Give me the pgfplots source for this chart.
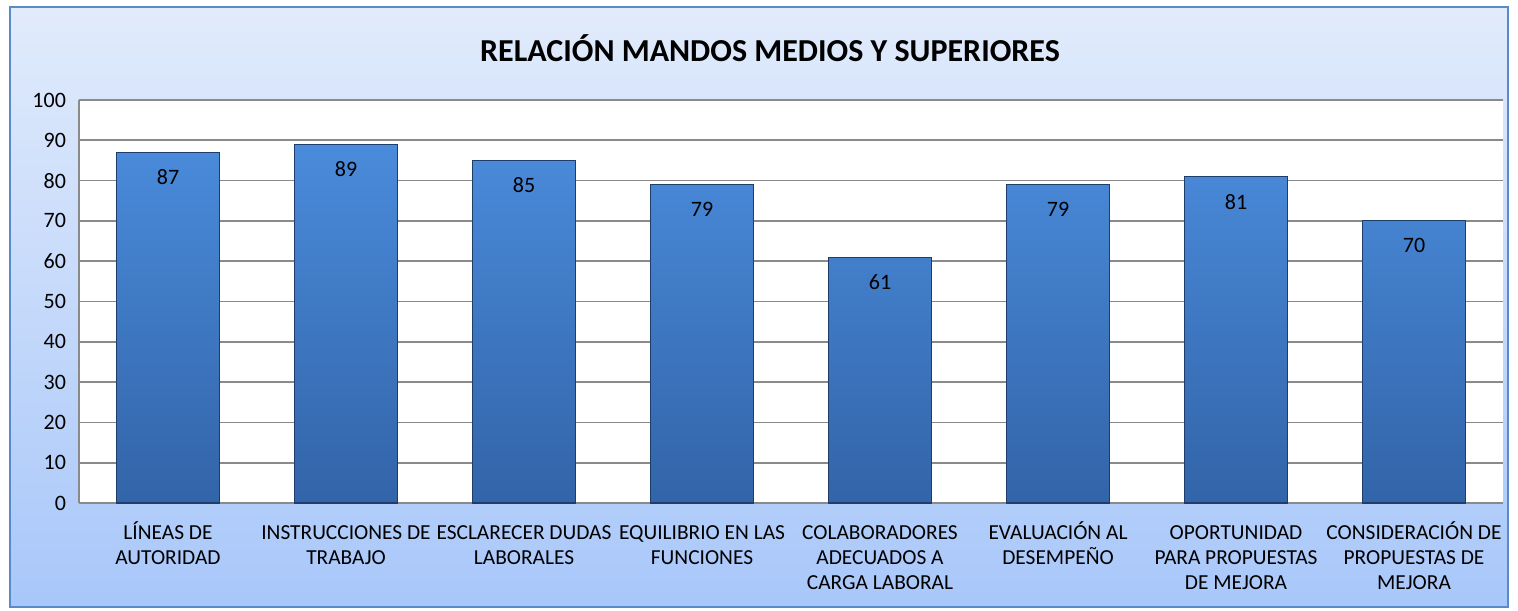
\documentclass[border=0pt]{standalone}
\usepackage{pgfplots}
\pgfplotsset{compat=1.18}
\usepackage{fontspec}
\setmainfont{Carlito}
\definecolor{bgtop}{HTML}{E1EBFB}
\definecolor{bgbot}{HTML}{A8C7FA}
\definecolor{frame}{HTML}{5B8ACB}
\definecolor{bartop}{HTML}{4A8BDB}
\definecolor{barbot}{HTML}{3264A8}
\definecolor{baredge}{HTML}{1E3D6B}
\definecolor{gridc}{HTML}{8A8A8A}
\newcommand{\st}{\rule{0pt}{10.5pt}}
\begin{document}
\begin{tikzpicture}[x=1pt,y=1pt]
\path (-39.5,-53.5) rectangle (719.5,251.5);
\shade[top color=bgtop, bottom color=bgbot] (-34.5,-52) rectangle (714.5,248);
\draw[frame, line width=1pt] (-34.5,-52) rectangle (714.5,248);
\node[font=\fontsize{16}{18}\selectfont\bfseries] at (345.5,227.5) {RELACIÓN MANDOS MEDIOS Y SUPERIORES};
\begin{axis}[
  at={(0pt,0pt)}, anchor=south west,
  scale only axis, width=712pt, height=201.5pt,
  xmin=-0.5, xmax=7.5, ymin=0, ymax=100,
  ytick={0,10,...,100},
  xtick={0,...,7},
  xticklabels={{\st LÍNEAS DE\\AUTORIDAD},{\st INSTRUCCIONES DE\\TRABAJO},{\st ESCLARECER DUDAS\\LABORALES},{\st EQUILIBRIO EN LAS\\FUNCIONES},{\st COLABORADORES\\ADECUADOS A\\CARGA LABORAL},{\st EVALUACIÓN AL\\DESEMPEÑO},{\st OPORTUNIDAD\\PARA PROPUESTAS\\DE MEJORA},{\st CONSIDERACIÓN DE\\PROPUESTAS DE\\MEJORA}},
  xticklabel style={align=center, font=\fontsize{10.7}{12.7}\selectfont, anchor=north, yshift=-4pt},
  yticklabel style={font=\fontsize{11}{12}\selectfont, xshift=-3pt},
  /pgf/number format/assume math mode=true,
  major tick length=0pt,
  ymajorgrids, grid style={gridc, line width=0.8pt},
  axis x line*=bottom, axis y line*=left,
  axis line style={gridc, line width=0.8pt, -},
  axis background/.style={fill=white},
  ybar, bar width=0.58,
  nodes near coords,
  every node near coord/.append style={anchor=center, yshift=-12.5pt, font=\fontsize{11}{12}\selectfont, text=black},
]
\addplot[ybar, top color=bartop, bottom color=barbot, draw=baredge, line width=0.6pt]
coordinates {(0,87) (1,89) (2,85) (3,79) (4,61) (5,79) (6,81) (7,70)};
\end{axis}
\end{tikzpicture}
\end{document}
